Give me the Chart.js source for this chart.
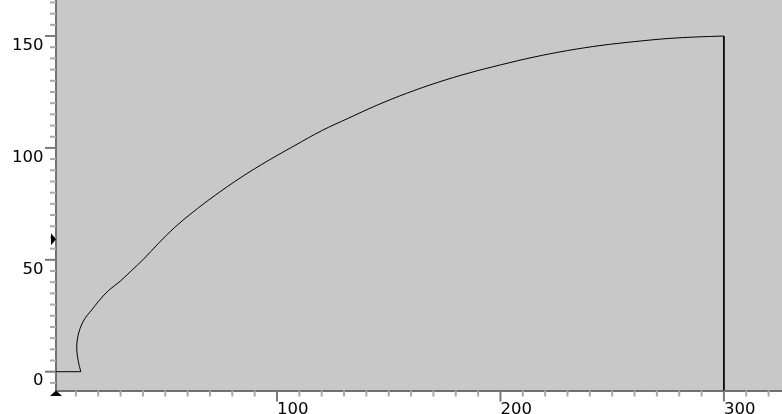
<!DOCTYPE html>
<html><head><meta charset="utf-8">
<script src="https://cdn.jsdelivr.net/npm/chart.js@4/dist/chart.umd.min.js"></script>
<style>html,body{margin:0;padding:0;overflow:hidden;background:#fff}canvas{display:block}</style>
</head><body>
<canvas id="c" width="782" height="414"></canvas>
<script>
// ---- data ----
const curveX = [0, 12.2, 11.1, 10.4, 10.6, 11.9, 14.1, 17.1, 20.0, 24.5, 29.8, 35.0, 40.0, 47.0, 54.0, 62.0, 72.0, 84.0, 96.0, 108.0, 120.0, 132.0, 145.0, 158.0, 172.0, 186.0, 200.0, 215.0, 230.0, 245.0, 260.0, 275.0, 288.0, 300.0, 300.0];
const curveY = [0, 0, 4.5, 9.7, 14.2, 19.4, 23.9, 27.6, 31.3, 36.2, 40.4, 45.3, 50.0, 57.4, 64.3, 71.0, 78.6, 86.9, 94.3, 101.1, 107.7, 113.3, 119.2, 124.4, 129.3, 133.5, 137.1, 140.6, 143.5, 145.8, 147.5, 148.9, 149.6, 150.0, -10];
const xTickValues = [100, 200, 300];
const yTickValues = [0, 50, 100, 150];
const xRange = [1.1, 326];
const yRange = [-8.4, 166.1];
const xMinorStep = 10;
const yMinorStep = 5;
const markerYValue = 59.2;
const markerXValue = 1.1;
// indices where the path has sharp corners
const cornerA = 1;
const cornerB = curveX.length - 2;

// ---- styles ----
const BG = '#c8c8c8';
const AXIS_COLOR = '#707070';
const MAJOR_TICK = '#7a7a7a';
const MINOR_TICK = '#a9a9a9';
const FONT = {family: 'DejaVu Sans', size: 16.5};

const points = curveX.map((x, i) => ({x: x, y: curveY[i]}));
const segStyle = {showLine: true, borderColor: '#000', borderWidth: 1, pointRadius: 0, fill: false};

const decor = {
  id: 'decor',
  beforeDraw(chart) {
    const a = chart.chartArea, ctx = chart.ctx;
    ctx.save();
    ctx.fillStyle = BG;
    ctx.fillRect(a.left, a.top, a.right - a.left, a.bottom - a.top);
    ctx.restore();
  },
  afterDraw(chart) {
    const ctx = chart.ctx, xs = chart.scales.x, ys = chart.scales.y, a = chart.chartArea;
    ctx.save();
    ctx.lineWidth = 2;
    for (let v = Math.ceil(xs.min / xMinorStep) * xMinorStep; v <= xs.max; v += xMinorStep) {
      const p = xs.getPixelForValue(v);
      if (p < a.left + 2 || p > a.right) continue;
      const major = xTickValues.includes(v);
      ctx.strokeStyle = major ? MAJOR_TICK : MINOR_TICK;
      ctx.beginPath();
      ctx.moveTo(p, a.bottom);
      ctx.lineTo(p, a.bottom + (major ? 11 : 6));
      ctx.stroke();
    }
    for (let v = Math.ceil(ys.min / yMinorStep) * yMinorStep; v <= ys.max; v += yMinorStep) {
      const p = ys.getPixelForValue(v);
      if (p < a.top || p > a.bottom - 2) continue;
      const major = yTickValues.includes(v);
      ctx.strokeStyle = major ? MAJOR_TICK : MINOR_TICK;
      ctx.beginPath();
      ctx.moveTo(a.left, p);
      ctx.lineTo(a.left - (major ? 11 : 6), p);
      ctx.stroke();
    }
    ctx.fillStyle = '#000';
    const my = ys.getPixelForValue(markerYValue);
    ctx.beginPath();
    ctx.moveTo(a.left, my);
    ctx.lineTo(a.left - 5, my - 6);
    ctx.lineTo(a.left - 5, my + 6);
    ctx.closePath();
    ctx.fill();
    const mx = xs.getPixelForValue(markerXValue);
    ctx.beginPath();
    ctx.moveTo(mx, a.bottom);
    ctx.lineTo(mx - 6, a.bottom + 5.5);
    ctx.lineTo(mx + 6, a.bottom + 5.5);
    ctx.closePath();
    ctx.fill();
    ctx.restore();
  }
};

new Chart(document.getElementById('c'), {
  type: 'scatter',
  data: {datasets: [
    Object.assign({data: points.slice(0, cornerA + 1), tension: 0}, segStyle),
    Object.assign({data: points.slice(cornerA, cornerB + 1), tension: 0.35}, segStyle),
    Object.assign({data: points.slice(cornerB), tension: 0}, segStyle)
  ]},
  options: {
    responsive: false, animation: false,
    layout: {padding: 0},
    plugins: {legend: {display: false}, tooltip: {enabled: false}},
    scales: {
      x: {
        type: 'linear', min: xRange[0], max: xRange[1],
        afterBuildTicks: s => { s.ticks = xTickValues.map(v => ({value: v})); },
        afterFit: s => { s.height = 23.5; s.paddingLeft = 0; s.paddingRight = 0; },
        grid: {display: false, drawTicks: false},
        border: {display: true, color: AXIS_COLOR, width: 2},
        ticks: {align: 'start', padding: 9, color: '#000', font: FONT, maxRotation: 0, autoSkip: false}
      },
      y: {
        type: 'linear', min: yRange[0], max: yRange[1],
        afterBuildTicks: s => { s.ticks = yTickValues.map(v => ({value: v})); },
        afterFit: s => { s.width = 56; s.paddingTop = 0; s.paddingBottom = 0; },
        grid: {display: false, drawTicks: false},
        border: {display: true, color: AXIS_COLOR, width: 2},
        ticks: {padding: 12.5, labelOffset: 9.5, color: '#000', font: FONT, autoSkip: false}
      }
    }
  },
  plugins: [decor]
});
</script>
</body></html>
